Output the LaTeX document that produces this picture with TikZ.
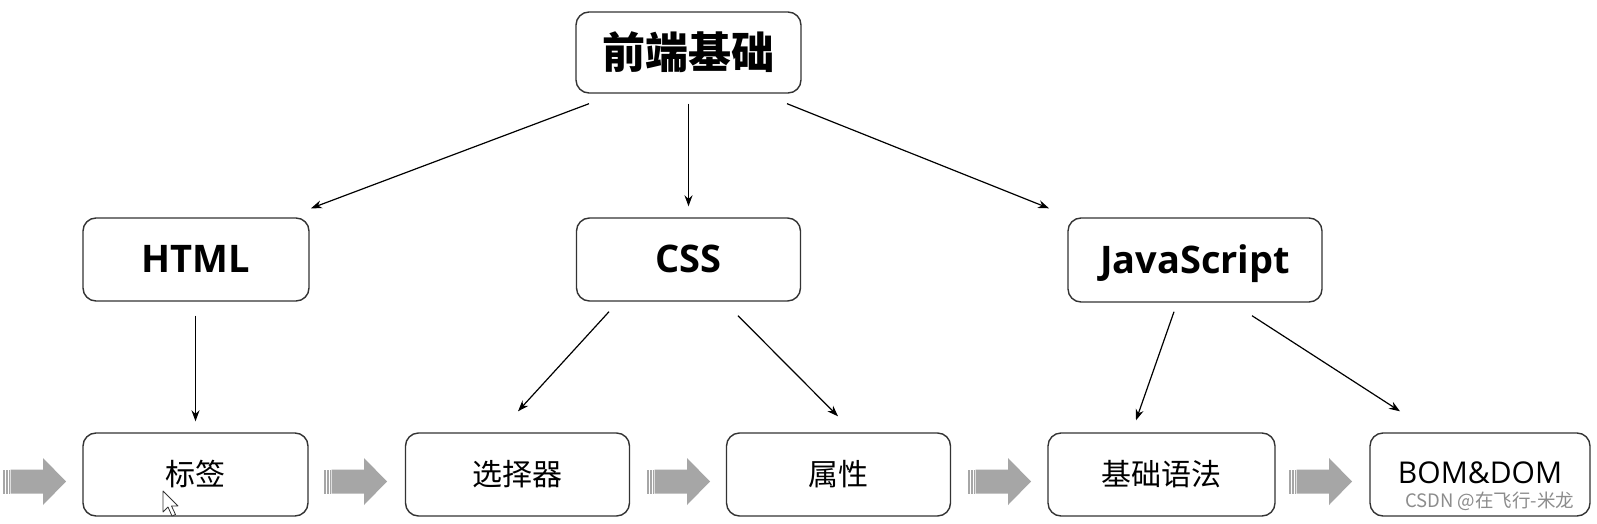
\documentclass[tikz,border=0pt]{standalone}
\usepackage{fontspec}
\setmainfont{Open Sans}
\newfontfamily\cjk{Noto Sans CJK SC}
\usetikzlibrary{calc,arrows.meta}
\definecolor{boxline}{HTML}{333333}
\definecolor{greyarr}{HTML}{A6A6A6}
\definecolor{wmark}{HTML}{8C8C8C}
\tikzset{
  box/.style={draw=boxline,line width=1.4pt,rounded corners=13pt,fill=white,inner sep=0pt,align=center},
  topbox/.style={box,minimum width=225pt,minimum height=81pt,font=\cjk\bfseries\fontsize{43}{43}\selectfont},
  midbox/.style={box,minimum height=83pt,text height=28pt,text depth=2pt,font=\bfseries\fontsize{38}{38}\selectfont},
  botbox/.style={box,minimum height=83pt,font=\cjk\fontsize{30}{30}\selectfont},
  conn/.style={draw=black,line width=1.2pt,-{Stealth[length=11pt,width=8pt]}},
}
\newcommand\greyarrow[1]{%
  \fill[greyarr] (#1+7.7,469.5) -- (#1+40,469.5) -- (#1+40,458) -- (#1+63,481.5) -- (#1+40,505) -- (#1+40,493.5) -- (#1+7.7,493.5) -- cycle;
  \fill[greyarr] (#1,469.5) rectangle (#1+1.8,493.5);
  \fill[greyarr] (#1+3,469.5) rectangle (#1+4.5,493.5);
  \fill[greyarr] (#1+5.5,469.5) rectangle (#1+6.7,493.5);
}
\begin{document}
\begin{tikzpicture}[x=1pt,y=-1pt]
\useasboundingbox[fill=white] (0,0) rectangle (1597,524);
% nodes
\node[topbox] (top) at (688.5,52.5) {前端基础};
\node[midbox,minimum width=226pt] (html) at (196,259.5) {HTML};
\node[midbox,minimum width=224pt] (css) at (688.5,259.5) {CSS};
\node[midbox,minimum width=254pt,minimum height=84pt] (js) at (1195,260) {JavaScript};
\node[botbox,minimum width=225pt] (tag) at (195.5,474.5) {标签};
\node[botbox,minimum width=224pt] (sel) at (517.5,474.5) {选择器};
\node[botbox,minimum width=224pt] (attr) at (838.5,474.5) {属性};
\node[botbox,minimum width=227pt] (syn) at (1161.5,474.5) {基础语法};
\node[box,minimum width=220pt,minimum height=83pt,text height=21pt,text depth=4pt,font=\fontsize{30}{30}\selectfont] (bom) at (1480,474.5) {BOM\&DOM};
% connectors
\draw[conn] ($(top.south)+(-99.5,10)$) -- ($(html.north)+(115,-9)$);
\draw[conn] ($(top.south)+(0,10)$) -- ($(css.north)+(0,-11)$);
\draw[conn] ($(top.south)+(98.5,10)$) -- ($(js.north)+(-146,-9)$);
\draw[conn] ($(html.south)+(-0.5,14)$) -- ($(tag.north)+(0,-11)$);
\draw[conn] ($(css.south)+(-79.5,10)$) -- ($(sel.north)+(0.5,-21)$);
\draw[conn] ($(css.south)+(49.5,14)$) -- ($(attr.north)+(-0.5,-16)$);
\draw[conn] ($(js.south)+(-21,9)$) -- ($(syn.north)+(-25.5,-12)$);
\draw[conn] ($(js.south)+(57,13)$) -- ($(bom.north)+(-80,-21)$);
% grey flow arrows
\greyarrow{3}
\greyarrow{324}
\greyarrow{647}
\greyarrow{968}
\greyarrow{1289}
% mouse cursor
\draw[fill=white,draw=boxline,line width=0.8pt,line join=round] (163,491) -- (163,512) -- (168,507) -- (172,516) -- (175.5,514.5) -- (171.5,506) -- (178,506) -- cycle;
% watermark
\node[anchor=base west,inner sep=0pt,text=wmark,font=\cjk\fontsize{18.5}{18.5}\selectfont] (wm) at (1405,507) {CSDN @在飞行-米龙};
\end{tikzpicture}
\end{document}
